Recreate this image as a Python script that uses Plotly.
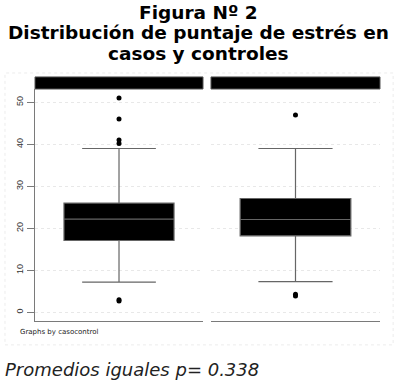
import plotly.graph_objects as go

groups = ["Casos", "Controles"]
q1 = [17.1, 18.2]
median = [22.2, 22.1]
q3 = [26.0, 27.1]
lower_fence = [7.2, 7.3]
upper_fence = [39.0, 39.0]
outliers = [[51.0, 46.0, 41.0, 40.2, 3.0, 2.7],
            [47.0, 4.3, 3.9]]

y_ticks = [0, 10, 20, 30, 40, 50]

title_lines = ["Figura Nº 2",
               "Distribución de puntaje de estrés en",
               "casos y controles"]
note = "Graphs by casocontrol"
caption = "Promedios iguales p= 0.338"

fig = go.Figure()

axes = [("x", "y"), ("x2", "y")]

for i, group in enumerate(groups):
    xa, ya = axes[i]
    fig.add_trace(go.Box(x=[0],
                         q1=[q1[i]],
                         median=[median[i]],
                         q3=[q3[i]],
                         lowerfence=[lower_fence[i]],
                         upperfence=[upper_fence[i]],
                         name=group,
                         width=0.655,
                         whiskerwidth=0.67,
                         fillcolor="black",
                         line=dict(color="#666666", width=1.2),
                         boxpoints=False,
                         showlegend=False,
                         hoverinfo="skip",
                         xaxis=xa, yaxis=ya))
    fig.add_trace(go.Scatter(x=[0] * len(outliers[i]),
                             y=outliers[i],
                             mode="markers",
                             marker=dict(color="black", size=5),
                             showlegend=False,
                             hoverinfo="skip",
                             xaxis=xa, yaxis=ya))

grid = dict(showgrid=True, gridcolor="#e8e8e8", griddash="dot", gridwidth=1)

fig.update_layout(
    width=395, height=381,
    margin=dict(l=35, r=15, t=89, b=60),
    paper_bgcolor="white",
    plot_bgcolor="white",
    font=dict(family="DejaVu Sans, sans-serif", color="#222"),
    xaxis=dict(domain=[0, 0.487], range=[-0.5, 0.5], showticklabels=False,
               showgrid=False, zeroline=False, showline=True,
               linecolor="#7a7a7a", linewidth=1.2),
    xaxis2=dict(domain=[0.5101, 1], range=[-0.5, 0.5], showticklabels=False,
                showgrid=False, zeroline=False, showline=True,
                linecolor="#7a7a7a", linewidth=1.2, anchor="y"),
    yaxis=dict(range=[-2.07, 53.17], tickvals=y_ticks, tickangle=-90,
               ticks="outside", ticklen=7, tickcolor="#7a7a7a",
               tickfont=dict(family="Liberation Sans, Arial, sans-serif",
                             size=9, color="#333"),
               showline=True, linecolor="#7a7a7a", linewidth=1.2,
               zeroline=False, **grid),
)

# title, one annotation per line
for text, yp in zip(title_lines, [1.3297, 1.2414, 1.1530]):
    fig.add_annotation(text="<b>" + text + "</b>", xref="paper", yref="paper",
                       x=0.4725, y=yp, xanchor="center", yanchor="middle",
                       showarrow=False,
                       font=dict(family="DejaVu Sans, sans-serif",
                                 size=18.5, color="black"))

# strips above each panel
for x0, x1 in [(0, 0.487), (0.5101, 1)]:
    fig.add_shape(type="rect", xref="paper", yref="paper",
                  x0=x0, x1=x1, y0=1.0, y1=1.052,
                  fillcolor="black", line=dict(color="#555", width=1))

# faint graph-region frame
fig.add_shape(type="rect", xref="paper", yref="paper",
              x0=-0.087, x1=1.038, y0=-0.103, y1=1.069,
              line=dict(color="#ececec", width=1, dash="dot"))

fig.add_annotation(text=note, xref="paper", yref="paper",
                   x=-0.049, y=-0.047, xanchor="left", yanchor="middle",
                   showarrow=False, font=dict(size=7, color="#222"))

fig.add_annotation(text=caption, xref="paper", yref="paper",
                   x=-0.093, y=-0.211, xanchor="left", yanchor="middle",
                   showarrow=False,
                   font=dict(size=18, color="#222", style="italic"))

fig.write_html("out.html",
               config={"displayModeBar": False},
               post_script="document.body.style.margin='0';")
